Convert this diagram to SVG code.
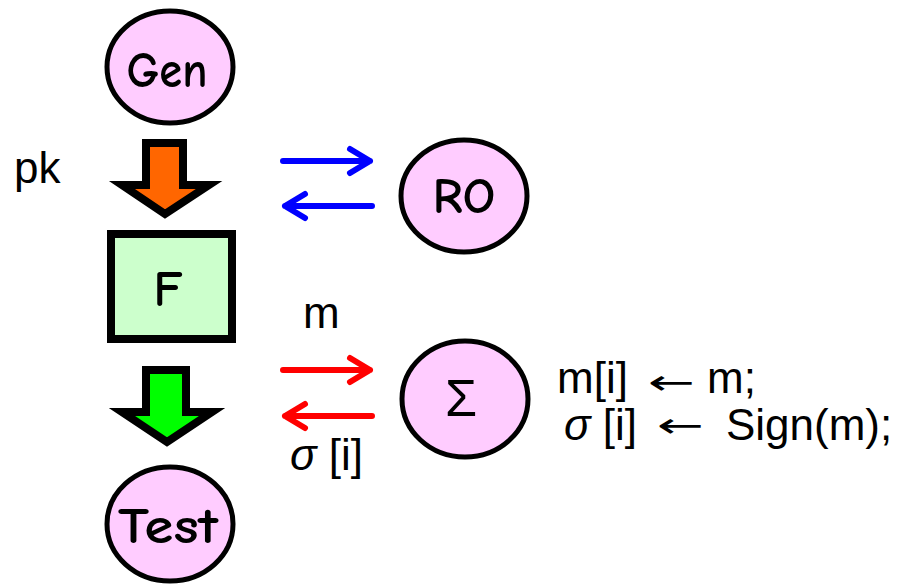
<svg xmlns="http://www.w3.org/2000/svg" width="899" height="585" viewBox="0 0 899 585">
<style>
.node{fill:#ffccff;stroke:#000;stroke-width:5}
.nlbl{font-family:"Comic Sans MS","Comic Neue","DejaVu Sans",sans-serif;font-size:50px;font-weight:bold;fill:#000;text-anchor:middle}
.lbl{font-family:"Liberation Sans",Arial,sans-serif;font-size:44px;fill:#000}
.arr{font-family:"DejaVu Sans",sans-serif;font-size:34px;fill:#000;text-anchor:middle}
.bigarrow{stroke:#000;stroke-width:8;stroke-linejoin:miter;stroke-miterlimit:10}
.ln{fill:none;stroke-width:6;stroke-linecap:round;stroke-linejoin:round}
</style>
<rect width="899" height="585" fill="#fff"/>
<g id="gen">
<ellipse class="node" cx="170" cy="67" rx="63" ry="56"/>
<text class="nlbl" x="167" y="87" textLength="81" lengthAdjust="spacingAndGlyphs">Gen</text>
</g>
<g id="ro">
<ellipse class="node" cx="464" cy="196" rx="63" ry="56"/>
<text class="nlbl" x="464" y="213" textLength="63" lengthAdjust="spacingAndGlyphs">RO</text>
</g>
<g id="f">
<rect x="111" y="234" width="121" height="105" fill="#ccffcc" stroke="#000" stroke-width="8"/>
<text class="nlbl" x="168" y="306">F</text>
</g>
<g id="sigma">
<ellipse class="node" cx="465" cy="399" rx="63" ry="58"/>
<text class="nlbl" x="461" y="416" style="font-family:'Liberation Sans',sans-serif;font-weight:normal;font-size:52px">Σ</text>
</g>
<g id="test">
<ellipse class="node" cx="170" cy="524" rx="63" ry="57"/>
<text class="nlbl" x="168" y="543" textLength="100" lengthAdjust="spacingAndGlyphs">Test</text>
</g>
<g id="connectors">
<polygon class="bigarrow" fill="#ff6600" points="146,143 183,143 183,185 209,185 165,214 122,185 146,185"/>
<polygon class="bigarrow" fill="#00ff00" points="146,370 186,370 186,412 212,412 167,442 122,412 146,412"/>
<g stroke="#0000ff" class="ln">
<path d="M283,161 H370 M350,149 L370,161 L350,173"/>
<path d="M372,206 H285 M305,194 L285,206 L305,218"/>
</g>
<g stroke="#ff0000" class="ln">
<path d="M283,370 H370 M350,358 L370,370 L350,382"/>
<path d="M372,416 H285 M305,404 L285,416 L305,428"/>
</g>
</g>
<text class="lbl" x="14" y="183">pk</text>
<text class="lbl" x="303" y="328">m</text>
<text class="lbl" x="290" y="470"><tspan font-style="italic">σ</tspan> [i]</text>
<text class="lbl" x="557" y="393">m[i]</text>
<text class="arr" transform="translate(671,394) scale(1.65,1)">←</text>
<text class="lbl" x="707" y="393">m;</text>
<text class="lbl" x="564" y="440"><tspan font-style="italic">σ</tspan> [i]</text>
<text class="arr" transform="translate(680,437) scale(1.65,1)">←</text>
<text class="lbl" x="726" y="440">Sign(m);</text>
</svg>
